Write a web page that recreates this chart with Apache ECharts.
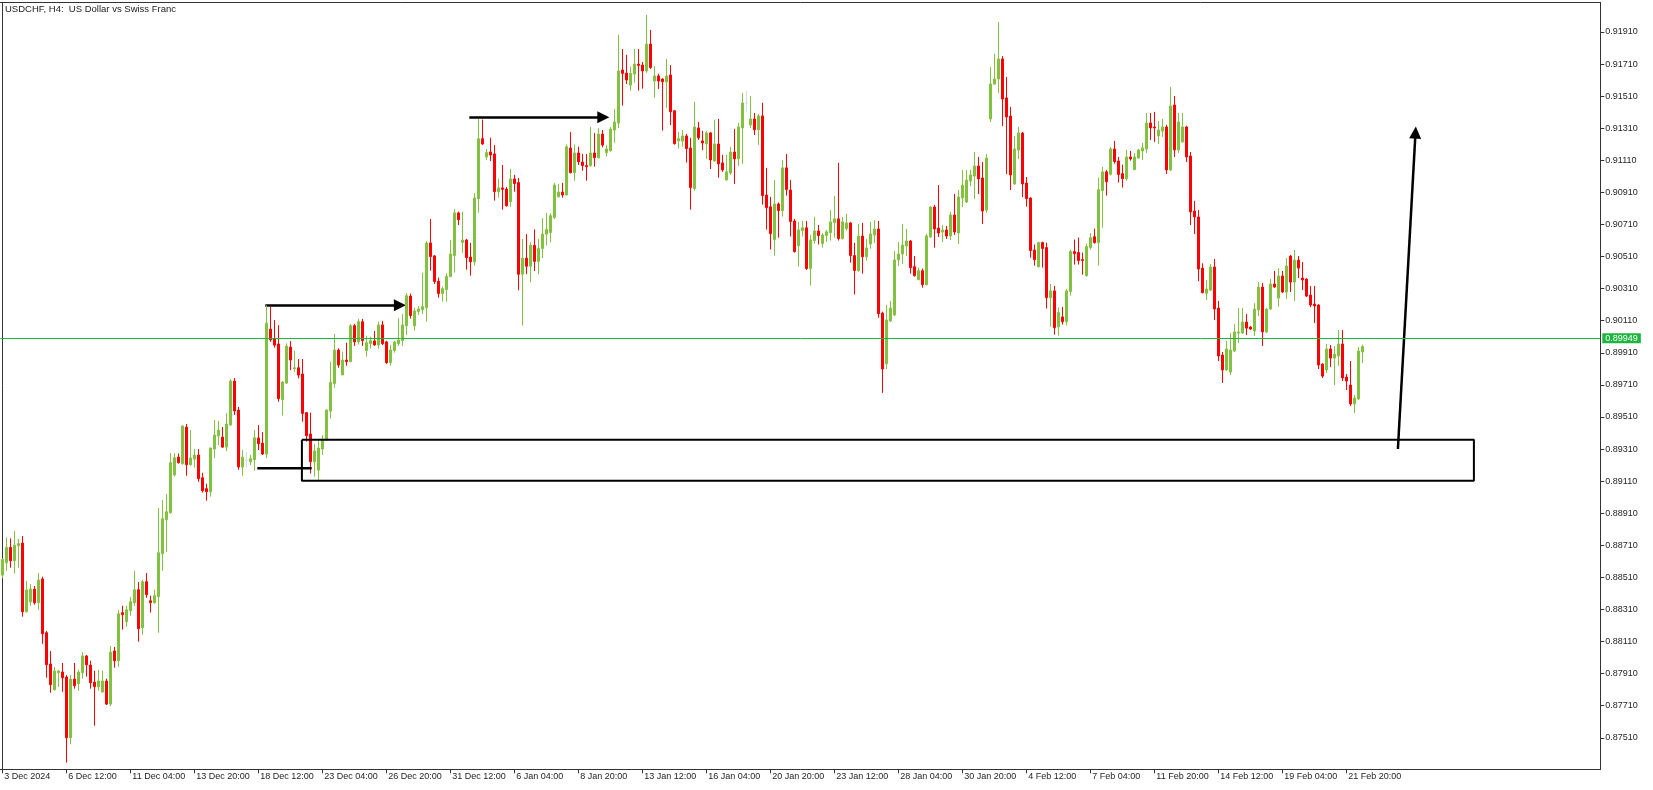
<!DOCTYPE html>
<html><head><meta charset="utf-8">
<script src="https://cdn.jsdelivr.net/npm/echarts@6/dist/echarts.min.js"></script>
<style>html,body{margin:0;padding:0;background:#fff}#c{width:1653px;height:790px}</style>
</head><body><div id="c"></div>
<script>
const titleText = 'USDCHF, H4:  US Dollar vs Swiss Franc';
const tickLabels = ['3 Dec 2024','6 Dec 12:00','11 Dec 04:00','13 Dec 20:00','18 Dec 12:00','23 Dec 04:00','26 Dec 20:00','31 Dec 12:00','6 Jan 04:00','8 Jan 20:00','13 Jan 12:00','16 Jan 04:00','20 Jan 20:00','23 Jan 12:00','28 Jan 04:00','30 Jan 20:00','4 Feb 12:00','7 Feb 04:00','11 Feb 20:00','14 Feb 12:00','19 Feb 04:00','21 Feb 20:00'];
const barsPerLabel = 16;
const slotCount = 400;
const yTicks = [0.87510,0.87710,0.87910,0.88110,0.88310,0.88510,0.88710,0.88910,0.89110,0.89310,0.89510,0.89710,0.89910,0.90110,0.90310,0.90510,0.90710,0.90910,0.91110,0.91310,0.91510,0.91710,0.91910];
const yMin = 0.873134, yMax = 0.920952;
const lastPrice = 0.89949;

const opens = [
.88524,.88601,.88697,.88614,.88707,.88724,.88296,.88358,.88437,.88352,
.88500,.88165,.87970,.87810,.87916,.87920,.87889,.87510,.87876,.87847,
.87916,.88020,.87963,.87857,.87828,.87795,.87864,.87720,.88051,.87990,
.88290,.88234,.88302,.88352,.88433,.88196,.88483,.88364,.88352,.88389,
.88657,.88869,.88913,.89148,.89260,.89219,.89447,.89212,.89248,.89273,
.89131,.89063,.89044,.89310,.89391,.89385,.89322,.89460,.89734,.89553,
.89198,.89239,.89231,.89244,.89379,.89347,.89279,.90058,.89996,.89965,
.89618,.89721,.89946,.89811,.89817,.89778,.89537,.89404,.89231,.89179,
.89310,.89366,.89547,.89719,.89927,.89772,.89865,.89855,.90079,.89978,
.90104,.89924,.89967,.89984,.89959,.90084,.89978,.89849,.89924,.89967,
.89986,.90079,.90264,.90079,.90167,.90179,.90192,.90595,.90514,.90356,
.90279,.90304,.90385,.90516,.90782,.90597,.90613,.90507,.90478,.90871,
.91245,.91131,.91162,.91150,.90915,.90938,.90931,.90852,.90994,.90971,
.90400,.90500,.90450,.90580,.90480,.90560,.90650,.90660,.90754,.90883,
.90912,.90894,.91187,.91033,.91156,.91099,.91077,.91077,.91156,.91126,
.91274,.91158,.91170,.91299,.91343,.91673,.91654,.91579,.91648,.91710,
.91704,.91667,.91835,.91604,.91636,.91617,.91598,.91642,.91419,.91232,
.91230,.91262,.91187,.90934,.91312,.91231,.91212,.91281,.91106,.91212,
.91094,.90988,.91031,.91162,.91119,.91312,.91466,.91331,.91368,.91300,
.91387,.90894,.90820,.90616,.90838,.90797,.91063,.90925,.90732,.90578,
.90672,.90689,.90435,.90610,.90670,.90591,.90641,.90659,.90722,.90745,
.90622,.90684,.90720,.90516,.90422,.90638,.90509,.90588,.90645,.90682,
.90158,.89842,.90108,.90146,.90489,.90526,.90576,.90607,.90447,.90366,
.90422,.90335,.90632,.90819,.90688,.90663,.90676,.90638,.90769,.90657,
.90875,.90850,.90981,.91012,.91075,.91000,.90800,.91368,.91586,.91617,
.91742,.91499,.91386,.90963,.91174,.91280,.90969,.90875,.90551,.90447,
.90597,.90566,.90254,.90296,.90073,.90134,.90104,.90292,.90541,.90535,
.90491,.90391,.90566,.90634,.90597,.90921,.91038,.91023,.91181,.91106,
.91027,.90996,.91131,.91052,.91125,.91168,.91181,.91343,.91318,.91262,
.91293,.91318,.91050,.91455,.91175,.91225,.91318,.91137,.90794,.90757,
.90438,.90281,.90301,.90445,.90189,.89896,.89803,.89790,.89921,.90033,
.90033,.90102,.90071,.90046,.90177,.90320,.90040,.90183,.90339,.90251,
.90389,.90289,.90513,.90351,.90488,.90376,.90370,.90270,.90214,.90208,
.89840,.89803,.89934,.89877,.89890,.89965,.89759,.89709,.89591,.89622,
.89915];
const highs = [
.88628,.88759,.88753,.88799,.88749,.88768,.88487,.88468,.88456,.88537,
.88514,.88175,.88051,.87951,.87932,.87976,.87901,.87901,.87976,.87934,
.88044,.88026,.87990,.87928,.87934,.87928,.87878,.88082,.88076,.88308,
.88333,.88333,.88389,.88551,.88481,.88495,.88537,.88396,.88433,.88942,
.88992,.89029,.89285,.89283,.89283,.89458,.89466,.89428,.89310,.89310,
.89162,.89094,.89320,.89491,.89485,.89447,.89534,.89746,.89753,.89572,
.89304,.89293,.89273,.89428,.89460,.89416,.90206,.90197,.90114,.90083,
.89734,.89969,.89983,.89923,.89871,.89871,.89541,.89537,.89341,.89372,
.89397,.89557,.89854,.90027,.89938,.89917,.89973,.90090,.90090,.90121,
.90121,.90017,.90011,.90046,.90104,.90109,.89985,.89959,.89985,.90125,
.90152,.90281,.90279,.90192,.90202,.90410,.90607,.90744,.90520,.90379,
.90323,.90406,.90613,.90807,.90790,.90790,.90620,.90595,.90906,.91368,
.91364,.91181,.91251,.91206,.90996,.91081,.90944,.91056,.91019,.91000,
.90620,.90650,.90600,.90680,.90620,.90750,.90783,.90780,.90969,.90964,
.90969,.91208,.91286,.91208,.91195,.91149,.91149,.91318,.91280,.91311,
.91299,.91205,.91318,.91430,.91893,.91804,.91767,.91694,.91804,.91804,
.91723,.92016,.91922,.91698,.91650,.91623,.91742,.91704,.91424,.91286,
.91299,.91275,.91250,.91474,.91349,.91293,.91293,.91287,.91362,.91368,
.91144,.91144,.91194,.91306,.91343,.91530,.91543,.91511,.91405,.91399,
.91468,.91063,.90882,.90988,.90847,.91112,.91150,.90988,.90745,.90726,
.90732,.90732,.90645,.90757,.90707,.90657,.90676,.90801,.90888,.91094,
.90757,.90776,.90726,.90595,.90713,.90719,.90620,.90726,.90738,.90732,
.90166,.90208,.90233,.90545,.90601,.90713,.90682,.90613,.90514,.90441,
.90435,.90651,.90825,.90832,.90956,.90707,.90701,.90788,.90900,.90925,
.91050,.91050,.91050,.91162,.91131,.91100,.91150,.91692,.91773,.91972,
.91760,.91630,.91443,.91262,.91318,.91287,.91006,.90880,.90585,.90603,
.90603,.90597,.90339,.90327,.90192,.90196,.90308,.90553,.90616,.90628,
.90535,.90591,.90657,.90684,.91002,.91069,.91050,.91193,.91231,.91131,
.91083,.91175,.91168,.91156,.91181,.91218,.91405,.91405,.91412,.91355,
.91368,.91331,.91567,.91511,.91405,.91405,.91325,.91162,.90857,.90800,
.90468,.90364,.90463,.90495,.90233,.89915,.89983,.90033,.90089,.90189,
.90189,.90152,.90077,.90220,.90351,.90345,.90189,.90370,.90420,.90438,
.90420,.90501,.90520,.90551,.90513,.90476,.90375,.90326,.90326,.90214,
.89845,.89965,.89958,.89952,.90052,.90052,.89778,.89859,.89647,.89946,
.89961];
const lows = [
.88504,.88551,.88570,.88533,.88570,.88265,.88290,.88333,.88340,.88308,
.88096,.87884,.87791,.87803,.87828,.87797,.87355,.87469,.87816,.87803,
.87878,.87891,.87816,.87585,.87803,.87791,.87714,.87708,.87947,.87953,
.88184,.88202,.88271,.88333,.88109,.88152,.88383,.88290,.88346,.88165,
.88551,.88668,.88907,.89138,.89219,.89212,.89144,.89206,.89194,.89106,
.89038,.88988,.89013,.89254,.89335,.89316,.89298,.89455,.89522,.89181,
.89144,.89194,.89210,.89175,.89304,.89273,.89254,.89979,.89942,.89605,
.89518,.89715,.89802,.89792,.89751,.89480,.89356,.89158,.89138,.89117,
.89273,.89362,.89501,.89692,.89817,.89772,.89830,.89851,.89953,.89961,
.89953,.89886,.89936,.89953,.89936,.89959,.89840,.89830,.89911,.89953,
.89953,.90021,.90123,.90048,.90146,.90152,.90104,.90422,.90339,.90254,
.90229,.90229,.90381,.90410,.90707,.90534,.90429,.90391,.90453,.90784,
.91206,.91112,.91106,.90859,.90877,.90803,.90821,.90821,.90915,.90300,
.90080,.90400,.90350,.90420,.90400,.90500,.90580,.90600,.90744,.90877,
.90877,.90890,.91029,.90983,.91081,.91045,.90983,.91070,.91070,.91120,
.91191,.91133,.91164,.91220,.91311,.91451,.91586,.91544,.91594,.91544,
.91557,.91655,.91680,.91501,.91555,.91295,.91438,.91330,.91208,.91183,
.91195,.91096,.90803,.90921,.91237,.91175,.91119,.91056,.91100,.91002,
.91038,.90982,.91019,.90963,.91075,.91088,.91414,.91312,.91268,.91206,
.90834,.90678,.90554,.90516,.90628,.90759,.90890,.90635,.90535,.90448,
.90635,.90427,.90329,.90591,.90585,.90566,.90603,.90610,.90628,.90610,
.90616,.90672,.90472,.90273,.90416,.90404,.90485,.90559,.90595,.90129,
.89660,.89809,.90102,.90140,.90451,.90464,.90514,.90404,.90385,.90362,
.90316,.90329,.90626,.90566,.90632,.90601,.90620,.90613,.90645,.90588,
.90819,.90844,.90950,.90869,.90900,.90713,.90782,.91349,.91580,.91530,
.91324,.91025,.90925,.90956,.91118,.90881,.90821,.90503,.90454,.90441,
.90441,.90186,.90073,.90023,.90017,.90086,.90080,.90267,.90460,.90460,
.90397,.90385,.90553,.90591,.90454,.90690,.90890,.91015,.91089,.90971,
.90940,.90983,.91108,.91050,.91119,.91112,.91156,.91237,.91225,.91212,
.91256,.91025,.91044,.91131,.91156,.91220,.91100,.90707,.90651,.90357,
.90281,.90239,.90295,.90114,.89859,.89722,.89798,.89771,.89915,.89971,
.90027,.90021,.90052,.90015,.90139,.89952,.90033,.90178,.90315,.90197,
.90284,.90245,.90289,.90233,.90376,.90301,.90258,.90195,.90096,.89809,
.89753,.89784,.89821,.89709,.89828,.89734,.89678,.89578,.89535,.89616,
.89846];
const closes = [
.88622,.88697,.88614,.88711,.88720,.88296,.88431,.88437,.88352,.88493,
.88159,.87965,.87841,.87926,.87926,.87884,.87510,.87876,.87835,.87920,
.88020,.87965,.87853,.87828,.87864,.87864,.87720,.88044,.87990,.88283,
.88277,.88308,.88358,.88433,.88190,.88483,.88402,.88352,.88396,.88664,
.88876,.88919,.89225,.89256,.89225,.89453,.89212,.89254,.89273,.89125,
.89050,.89044,.89316,.89397,.89428,.89322,.89466,.89734,.89547,.89198,
.89260,.89239,.89250,.89381,.89343,.89279,.90095,.89990,.89958,.89624,
.89728,.89952,.89865,.89817,.89771,.89532,.89393,.89231,.89298,.89316,
.89372,.89553,.89726,.89927,.89834,.89865,.89855,.90079,.89978,.90104,
.89986,.89973,.89986,.89959,.90084,.89967,.89849,.89928,.89978,.89990,
.90084,.90266,.90142,.90171,.90183,.90198,.90595,.90510,.90354,.90279,
.90310,.90387,.90526,.90782,.90740,.90613,.90503,.90478,.90875,.91245,
.91212,.91158,.91143,.90915,.90938,.90929,.90827,.90994,.90965,.90400,
.90500,.90450,.90580,.90480,.90560,.90650,.90680,.90765,.90956,.90912,
.90894,.91195,.91033,.91156,.91101,.91077,.91070,.91156,.91126,.91274,
.91205,.91181,.91305,.91349,.91667,.91652,.91611,.91652,.91710,.91702,
.91667,.91835,.91688,.91636,.91604,.91600,.91636,.91413,.91214,.91245,
.91262,.91183,.90940,.91318,.91250,.91218,.91281,.91112,.91212,.91088,
.91050,.91038,.91162,.91119,.91318,.91468,.91466,.91368,.91300,.91387,
.90890,.90815,.90653,.90838,.90797,.91063,.90928,.90728,.90541,.90676,
.90689,.90435,.90614,.90670,.90641,.90645,.90664,.90726,.90745,.90622,
.90726,.90720,.90516,.90423,.90638,.90509,.90564,.90651,.90682,.90154,
.89809,.90115,.90189,.90489,.90526,.90582,.90607,.90441,.90391,.90422,
.90335,.90638,.90819,.90682,.90657,.90676,.90638,.90769,.90663,.90881,
.90956,.90987,.91019,.91075,.90994,.90794,.91125,.91586,.91617,.91742,
.91492,.91380,.91019,.91181,.91280,.90963,.90871,.90547,.90491,.90597,
.90560,.90254,.90296,.90067,.90161,.90104,.90296,.90541,.90528,.90485,
.90485,.90572,.90628,.90597,.90927,.91038,.90977,.91181,.91102,.91021,
.90996,.91131,.91119,.91131,.91175,.91187,.91343,.91312,.91312,.91299,
.91318,.91050,.91449,.91175,.91349,.91318,.91131,.90788,.90757,.90432,
.90285,.90308,.90445,.90183,.89890,.89803,.89934,.89927,.90040,.90040,
.90102,.90064,.90058,.90183,.90320,.90040,.90183,.90339,.90320,.90389,
.90289,.90451,.90351,.90488,.90438,.90364,.90264,.90208,.90202,.89834,
.89765,.89934,.89877,.89902,.89965,.89753,.89734,.89591,.89628,.89921,
.89949];

// drawings (x in bar index units, y in price)
const zoneX = [74.9, 367.9];
const zoneY = [0.89113, 0.89368];
const plainLine = [[63.75, 0.89190], [77.35, 0.89190]];
const arrowLow = [[65.75, 0.90206], [99.4, 0.90206]];
const arrowHigh = [[116.75, 0.91378], [150.25, 0.91378]];
const arrowUp = [[348.9, 0.89310], [353.3, 0.91283]];

const FONT = 'Liberation Sans, Arial, sans-serif';
const UP = '#83c241', DOWN = '#ff0000', LINE_GREEN = '#1cb53e', AXIS = '#333333';

const slots = Array.from({length: slotCount}, (_, i) => String(i));
const candleData = opens.map((o, i) => [o, closes[i], lows[i], highs[i]]);
const showTick = (idx) => idx % barsPerLabel === 0 && idx / barsPerLabel < tickLabels.length;

const chart = echarts.init(document.getElementById('c'), null, {renderer: 'canvas'});
chart.setOption({
  animation: false,
  backgroundColor: '#ffffff',
  title: {text: titleText, left: 5, top: 4, padding: 0,
    textStyle: {fontSize: 9.5, fontWeight: 'normal', color: '#1a1a1a', fontFamily: FONT}},
  grid: {left: 0.3, right: 52.7, top: 2.3, bottom: 20.7, containLabel: false},
  xAxis: [
    {type: 'category', data: slots, boundaryGap: true, position: 'bottom',
     axisLine: {show: true, lineStyle: {color: AXIS, width: 1}},
     axisTick: {show: true, alignWithLabel: true, interval: (idx) => showTick(idx), length: 4, lineStyle: {color: AXIS}},
     axisLabel: {interval: (idx) => showTick(idx), formatter: (v, idx) => tickLabels[Math.round(Number(v) / barsPerLabel)] || '',
       align: 'left', padding: [0, 0, 0, 2], margin: 3, fontSize: 9, color: '#1e1e1e', fontFamily: FONT},
     splitLine: {show: false}},
    {type: 'value', min: -0.5, max: slotCount - 0.5, position: 'top',
     axisLine: {show: true, onZero: false, lineStyle: {color: AXIS, width: 1}},
     axisTick: {show: false}, axisLabel: {show: false}, splitLine: {show: false}}
  ],
  yAxis: [
    {type: 'value', position: 'right', min: yMin, max: yMax, scale: true,
     axisLine: {show: true, onZero: false, lineStyle: {color: AXIS, width: 1}},
     axisTick: {show: true, customValues: yTicks, length: 4, lineStyle: {color: AXIS}},
     axisLabel: {customValues: yTicks, formatter: (v) => v.toFixed(5), margin: 5, fontSize: 9, color: '#1e1e1e', fontFamily: FONT},
     splitLine: {show: false}},
    {type: 'value', position: 'left', offset: -2, min: yMin, max: yMax, scale: true,
     axisLine: {show: true, onZero: false, lineStyle: {color: AXIS, width: 1}},
     axisTick: {show: false}, axisLabel: {show: false}, splitLine: {show: false}}
  ],
  series: [
    {type: 'candlestick', xAxisIndex: 0, yAxisIndex: 0, data: candleData, barWidth: 2,
     itemStyle: {color: UP, color0: DOWN, borderColor: UP, borderColor0: DOWN, borderColorDoji: '#cfdede', borderWidth: 1},
     markLine: {silent: true, symbol: ['none', 'none'], animation: false,
       lineStyle: {color: LINE_GREEN, width: 1, type: 'solid'},
       label: {show: true, position: 'end', formatter: lastPrice.toFixed(5), color: '#ffffff', backgroundColor: LINE_GREEN,
         padding: [1, 3, 0, 3], fontSize: 9, distance: 2, fontFamily: FONT},
       emphasis: {disabled: true},
       data: [{yAxis: lastPrice}]}},
    {type: 'line', xAxisIndex: 1, yAxisIndex: 0, symbol: 'none', silent: true,
     lineStyle: {color: '#000', width: 2},
     data: [[zoneX[0], zoneY[1]], [zoneX[1], zoneY[1]], [zoneX[1], zoneY[0]], [zoneX[0], zoneY[0]], [zoneX[0], zoneY[1]]]},
    {type: 'line', xAxisIndex: 1, yAxisIndex: 0, symbol: 'none', silent: true,
     lineStyle: {color: '#000', width: 2.5}, data: plainLine},
    {type: 'lines', coordinateSystem: 'cartesian2d', xAxisIndex: 1, yAxisIndex: 0, silent: true,
     symbol: ['none', 'triangle'], symbolSize: 12,
     lineStyle: {color: '#000', width: 2.5, opacity: 1},
     data: [{coords: arrowLow}, {coords: arrowHigh}, {coords: arrowUp}]}
  ]
});
</script></body></html>
